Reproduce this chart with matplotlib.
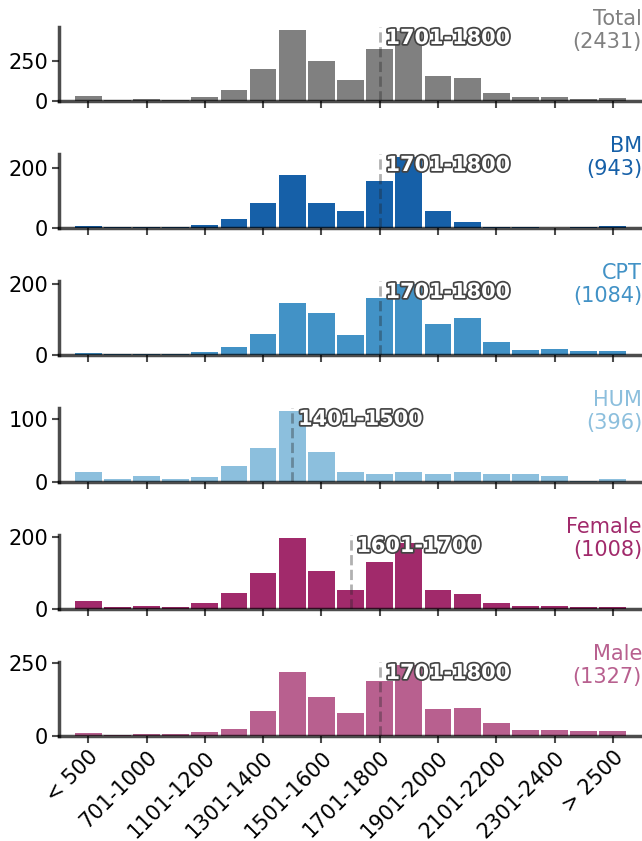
import matplotlib
matplotlib.use("Agg")
import matplotlib.pyplot as plt
import matplotlib.patheffects as pe
import matplotlib.transforms as mtransforms
import numpy as np


categories = ["< 500", "501-700", "701-1000", "1001-1100", "1101-1200", "1201-1300",
              "1301-1400", "1401-1500", "1501-1600", "1601-1700", "1701-1800",
              "1801-1900", "1901-2000", "2001-2100", "2101-2200", "2201-2300",
              "2301-2400", "2401-2500", "> 2500"]

names = ["Total", "BM", "CPT", "HUM", "Female", "Male"]
counts = [2431, 943, 1084, 396, 1008, 1327]
colors = ["#808080", "#1660a8", "#4292c6", "#8cbfdd", "#a12a6b", "#b8608f"]

total = [30, 5, 13, 7, 25, 70, 200, 445, 250, 135, 330, 440, 155, 142, 52, 27, 27, 15, 20]
bm = [5, 2, 2, 2, 9, 29, 82, 177, 82, 56, 158, 235, 56, 19, 2, 2, 1, 2, 5]
cpt = [6, 2, 2, 2, 7, 21, 58, 148, 119, 57, 161, 200, 88, 105, 37, 13, 16, 10, 10]
hum = [16, 4, 10, 4, 8, 26, 54, 112, 48, 16, 12, 15, 13, 16, 12, 13, 10, 1, 5]
female = [23, 4, 9, 6, 15, 45, 99, 195, 104, 53, 129, 183, 53, 42, 15, 9, 9, 4, 6]
male = [9, 2, 6, 6, 12, 22, 84, 220, 135, 78, 190, 242, 91, 94, 43, 19, 19, 16, 16]

series = [total, bm, cpt, hum, female, male]
yticks = [[0, 250], [0, 200], [0, 200], [0, 100], [0, 200], [0, 250]]

spine_color = (0, 0, 0, 0.7)

fig, axes = plt.subplots(6, 1, sharex=True, figsize=(6.42, 8.41), dpi=100)
fig.subplots_adjust(left=0.092, right=1.0, top=0.968, bottom=0.125, hspace=0.716)

x = np.arange(len(categories))

for ax, name, n, col, vals, yt in zip(axes, names, counts, colors, series, yticks):
    vals = np.array(vals)
    ax.bar(x, vals, width=0.92, color=col)
    ax.set_xlim(-1, len(categories))
    ax.set_yticks(yt)
    for side in ["top", "right"]:
        ax.spines[side].set_visible(False)
    for side in ["left", "bottom"]:
        ax.spines[side].set_color(spine_color)
        ax.spines[side].set_linewidth(2.5)
    ax.tick_params(labelsize=15, color=spine_color, length=5, width=1.5, pad=3)

    # median category
    cum = np.cumsum(vals)
    med = int(np.searchsorted(cum, cum[-1] / 2))
    ax.axvline(med, color="#222222", alpha=0.35, ls="--", lw=2)
    trans = mtransforms.blended_transform_factory(ax.transData, ax.transAxes)
    ax.text(med + 0.2, 0.85, categories[med], transform=trans, fontsize=15,
            fontweight="bold", color="white", ha="left", va="center",
            path_effects=[pe.withStroke(linewidth=2.5, foreground="#444444")])

    ax.text(1.0, 0.95, f"{name}\n({n})", transform=ax.transAxes, ha="right",
            va="center", color=col, fontsize=15)

axes[-1].set_xticks(x[::2])
axes[-1].set_xticklabels(categories[::2], rotation=45, ha="right", va="top",
                         rotation_mode="anchor")

fig.savefig("out.png", dpi=100)
